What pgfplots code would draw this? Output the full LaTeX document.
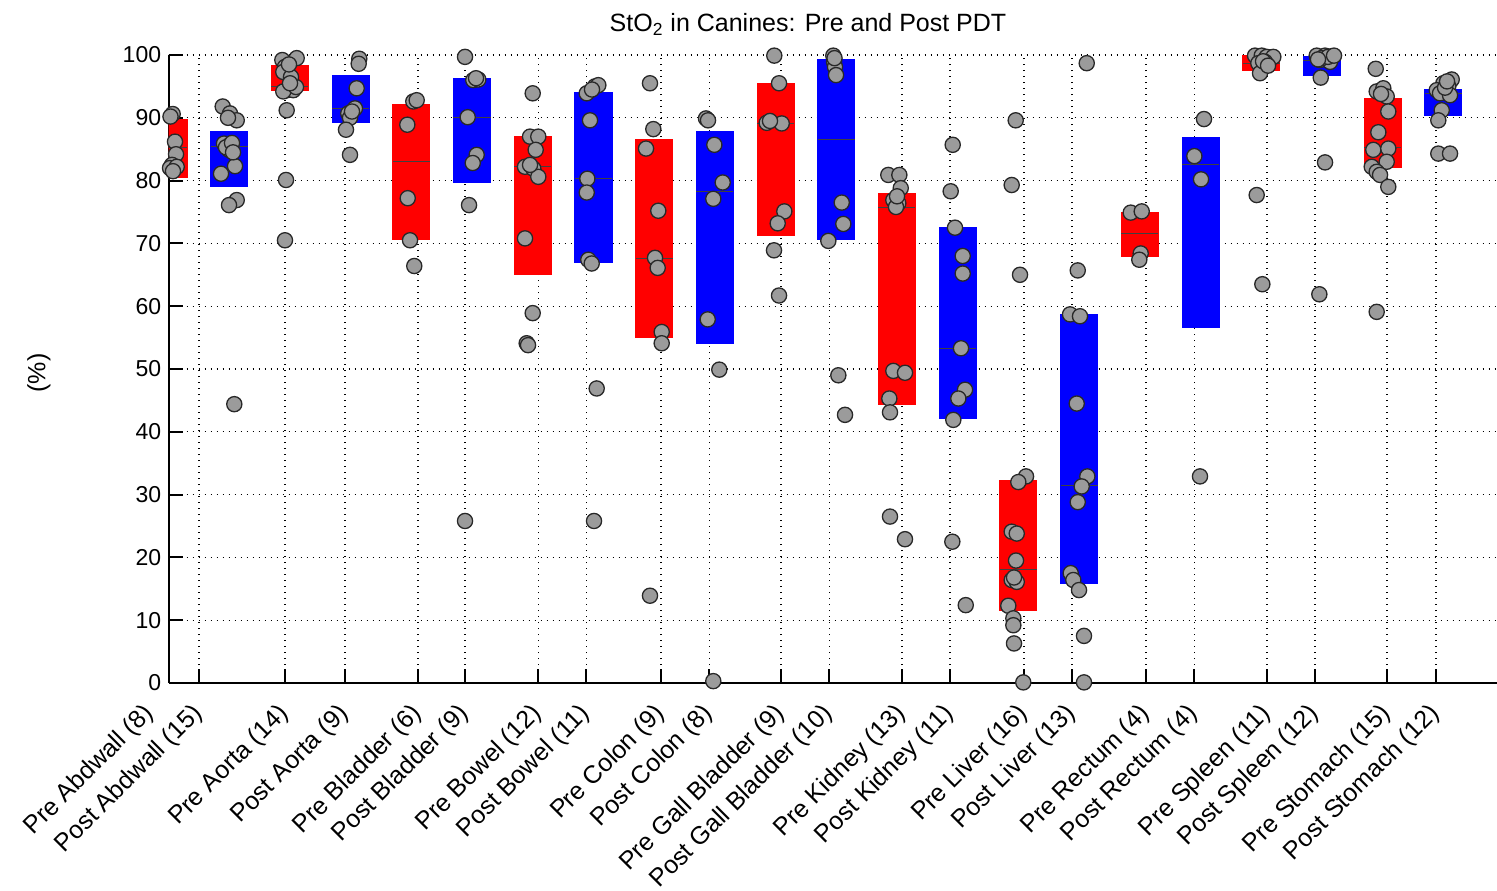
\documentclass[border=0pt]{standalone}
\usepackage{fontspec}
\setmainfont{Liberation Sans}
\usepackage{pgfplots}
\pgfplotsset{compat=1.18}

\definecolor{dotfill}{RGB}{155,155,155}
\definecolor{dotedge}{RGB}{40,40,40}

% one bar: left edge, right edge, lower edge, median, upper edge, colour
\newcommand{\stobox}[6]{%
  \addplot[fill=#6, draw=#6, line width=0.4pt]
    coordinates {(#1,#3) (#2,#3) (#2,#5) (#1,#5)} -- cycle;
  \addplot[draw=black!75, line width=0.5pt]
    coordinates {(#1,#4) (#2,#4)};}

\tikzset{organlabel/.style={xshift=0pt, yshift=-13.5pt, rotate=45, anchor=east,
    inner sep=0pt, font=\fontsize{12.5}{15}\selectfont}}

\begin{document}
\begin{tikzpicture}
\useasboundingbox (0,0) rectangle (748.5pt,445pt);
\begin{axis}[
  at={(84.25pt,103.5pt)}, anchor=south west,
  scale only axis, width=664.25pt, height=314pt,
  xmin=1, xmax=22.886, ymin=0, ymax=100,
  clip mode=individual,
  axis lines=left, axis line style={-, line width=1pt, black},
  tick align=inside, major tick length=7pt,
  every tick/.style={black, line width=1pt},
  xtick={1.502,2.919,3.908,5.110,5.885,7.088,7.879,9.114,9.905,11.091,11.882,
         13.084,13.875,15.094,15.885,17.104,17.895,19.097,19.888,21.074,21.881},
  xticklabels={Post Abdwall (15), Pre Aorta (14), Post Aorta (9), Pre Bladder (6),
    Post Bladder (9), Pre Bowel (12), Post Bowel (11), Pre Colon (9), Post Colon (8),
    Pre Gall Bladder (9), Post Gall Bladder (10), Pre Kidney (13), Post Kidney (11),
    Pre Liver (16), Post Liver (13), Pre Rectum (4), Post Rectum (4), Pre Spleen (11),
    Post Spleen (12), Pre Stomach (15), Post Stomach (12)},
  xticklabel style={organlabel},
  ytick={0,10,...,100},
  /pgf/number format/assume math mode=true,
  yticklabel style={font=\fontsize{11.5}{14}\selectfont, anchor=east,
    inner sep=0pt, xshift=-3.5pt},
  grid=major,
  major grid style={black, line width=0.55pt, dash pattern=on 0.55pt off 2.45pt},
  sto/.style={only marks, mark=*, mark size=3.8pt,
    mark options={fill=dotfill, draw=dotedge, line width=0.65pt}},
]
% interquartile bars with median, pre (red) and post (blue)
\stobox{0.695}{1.305}{80.5}{85.3}{89.7}{red}
\stobox{1.695}{2.305}{79.1}{85.4}{87.8}{blue}
\stobox{2.695}{3.305}{94.4}{95.0}{98.3}{red}
\stobox{3.695}{4.305}{89.2}{91.5}{96.7}{blue}
\stobox{4.695}{5.305}{70.7}{83.0}{92.2}{red}
\stobox{5.695}{6.305}{79.7}{90.1}{96.2}{blue}
\stobox{6.695}{7.305}{65.1}{82.2}{87.0}{red}
\stobox{7.695}{8.305}{67.0}{80.3}{94.1}{blue}
\stobox{8.695}{9.305}{55.0}{67.6}{86.6}{red}
\stobox{9.695}{10.305}{54.1}{78.2}{87.8}{blue}
\stobox{10.695}{11.305}{71.2}{89.1}{95.5}{red}
\stobox{11.695}{12.305}{70.7}{86.5}{99.3}{blue}
\stobox{12.695}{13.305}{44.3}{75.7}{78.0}{red}
\stobox{13.695}{14.305}{42.2}{53.3}{72.5}{blue}
\stobox{14.695}{15.305}{11.5}{18.0}{32.3}{red}
\stobox{15.695}{16.305}{15.9}{31.5}{58.7}{blue}
\stobox{16.695}{17.305}{67.9}{71.5}{74.9}{red}
\stobox{17.695}{18.305}{56.7}{82.5}{86.8}{blue}
\stobox{18.695}{19.305}{97.5}{98.7}{99.9}{red}
\stobox{19.695}{20.305}{96.8}{99.2}{99.8}{blue}
\stobox{20.695}{21.305}{82.1}{85.3}{93.1}{red}
\stobox{21.695}{22.305}{90.4}{93.9}{94.5}{blue}

% individual measurements
% Pre Abdwall
\addplot[sto] table {
1.069 90.6
1.033 90.2
1.107 86.2
1.124 84.2
1.058 82.5
1.025 82.0
1.135 82.2
1.074 81.5
};
% Post Abdwall
\addplot[sto] table {
1.893 91.8
2.013 90.7
2.124 89.6
1.914 85.9
2.013 85.7
1.997 84.9
2.096 82.3
1.865 81.1
2.124 76.9
1.997 76.1
2.084 44.4
1.947 85.3
2.046 86.0
1.980 90.0
2.063 84.5
};
% Pre Aorta
\addplot[sto] table {
2.875 99.2
3.112 99.5
2.919 98.1
2.891 97.3
2.957 94.4
3.056 94.4
2.891 94.2
2.947 91.2
2.936 80.1
2.919 70.5
3.100 94.9
3.018 96.5
3.002 95.5
2.985 98.5
};
% Post Aorta
\addplot[sto] table {
4.143 99.4
4.133 98.6
4.100 94.7
4.072 91.5
3.962 90.7
3.990 90.0
3.924 88.1
3.990 84.1
4.023 91.0
};
% Pre Bladder
\addplot[sto] table {
5.033 92.6
5.089 92.8
4.934 88.9
4.941 77.2
4.979 70.5
5.049 66.4
};
% Post Bladder
\addplot[sto] table {
5.885 99.7
6.021 96.0
6.104 96.1
6.066 96.3
5.929 90.1
6.077 84.1
6.012 82.8
5.951 76.1
5.885 25.8
};
% Pre Bowel
\addplot[sto] table {
7.000 93.9
6.956 87.0
7.092 87.0
7.049 84.9
6.873 82.2
7.010 81.9
7.092 80.6
6.873 70.8
7.000 58.9
6.901 54.1
6.923 53.8
6.956 82.5
};
% Post Bowel
\addplot[sto] table {
7.890 93.9
8.026 95.0
8.081 95.2
7.944 89.6
7.900 80.3
7.890 78.1
7.916 67.4
7.972 66.8
8.054 46.9
8.010 25.8
7.977 94.5
};
% Pre Colon
\addplot[sto] table {
8.932 95.5
8.987 88.2
8.867 85.1
9.069 75.2
9.015 67.7
9.059 66.1
9.125 55.9
9.125 54.1
8.932 13.9
};
% Post Colon
\addplot[sto] table {
9.855 89.9
9.888 89.6
9.992 85.7
10.130 79.7
9.975 77.1
9.883 57.9
10.074 49.9
9.975 0.3
};
% Pre Gall Bladder
\addplot[sto] table {
10.980 99.9
11.058 95.5
10.855 89.2
11.102 89.1
11.145 75.1
11.036 73.2
10.975 68.9
11.058 61.7
10.909 89.5
};
% Post Gall Bladder
\addplot[sto] table {
11.952 99.9
11.964 98.9
11.980 98.1
11.997 96.8
12.091 76.5
12.117 73.1
11.870 70.4
12.035 49.0
12.145 42.7
11.972 99.5
};
% Pre Kidney
\addplot[sto] table {
12.858 80.9
13.040 80.9
13.063 78.8
12.941 76.9
13.023 76.4
12.985 75.8
12.941 49.7
13.133 49.4
12.875 45.3
12.886 43.1
12.886 26.5
13.133 22.9
13.002 77.5
};
% Post Kidney
\addplot[sto] table {
13.919 85.7
13.886 78.3
13.957 72.5
14.084 68.0
14.084 65.2
14.122 46.7
14.012 45.3
13.929 41.9
13.913 22.5
14.134 12.4
14.056 53.3
};
% Pre Liver
\addplot[sto] table {
14.957 89.6
14.891 79.3
15.028 65.0
15.127 32.9
15.000 32.0
14.891 24.1
14.974 23.8
14.962 19.5
14.891 16.4
14.974 16.1
14.835 12.3
14.918 10.3
14.918 9.2
14.929 6.3
15.082 0.1
14.929 16.8
};
% Post Liver
\addplot[sto] table {
16.127 98.7
15.979 65.7
15.852 58.7
16.016 58.4
15.962 44.5
16.137 32.9
16.044 31.3
15.979 28.8
15.863 17.5
15.906 16.4
16.000 14.8
16.082 7.5
16.082 0.1
};
% Pre Rectum
\addplot[sto] table {
16.852 74.9
17.033 75.1
17.016 68.4
16.993 67.4
};
% Post Rectum
\addplot[sto] table {
18.059 89.8
17.900 83.9
18.010 80.2
17.993 32.9
};
% Pre Spleen
\addplot[sto] table {
18.900 99.9
19.010 99.9
19.092 99.7
19.201 99.7
18.954 98.7
19.064 98.9
18.982 97.1
18.927 77.7
19.020 63.5
19.031 99.0
19.114 98.3
};
% Post Spleen
\addplot[sto] table {
19.916 99.9
20.053 99.9
20.163 99.8
19.970 99.2
20.135 98.9
19.982 96.4
20.053 82.9
19.959 61.9
20.003 99.5
20.102 99.7
19.937 99.3
20.201 99.9
};
% Pre Stomach
\addplot[sto] table {
20.888 97.8
20.904 94.2
21.013 94.7
21.069 93.4
21.095 91.0
20.931 87.7
20.848 84.9
21.095 85.1
21.069 83.0
20.822 82.2
20.904 81.4
20.959 80.9
21.095 79.0
20.904 59.1
20.975 93.8
};
% Post Stomach
\addplot[sto] table {
22.140 96.1
22.002 95.5
22.084 95.0
21.893 94.4
21.947 93.9
22.112 93.6
21.975 91.2
21.919 89.6
21.919 84.3
22.112 84.3
22.030 94.8
22.063 95.8
};

% first category label sits left of the plotted range
\node[organlabel] at (axis cs:0.695,0) {Pre Abdwall (8)};
\end{axis}
\node[anchor=base, font=\fontsize{12.5}{15}\selectfont]
  at (404pt,429pt) {StO\textsubscript{2} in Canines: Pre and Post PDT};
\node[rotate=90, font=\fontsize{12.5}{15}\selectfont] at (19.5pt,258.5pt) {(\%)};
\end{tikzpicture}
\end{document}
